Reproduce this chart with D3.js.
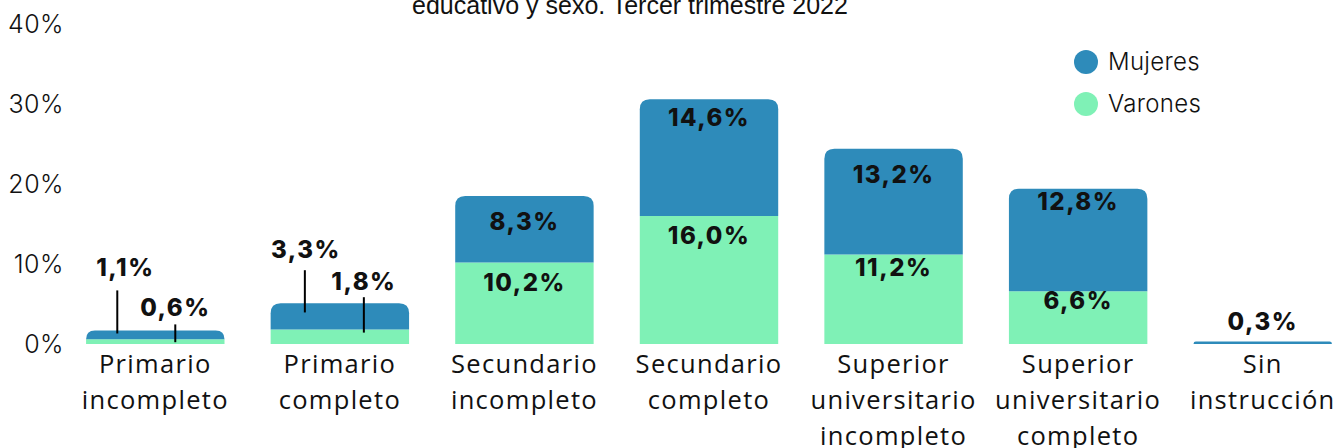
<!DOCTYPE html>
<html>
<head>
	<meta http-equiv="Content-Type" content="text/html;charset=utf-8">
	<title>Nivel educativo y sexo</title>
	<script src="https://d3js.org/d3.v7.min.js"></script>
	<style type="text/css">
		body {
			margin: 0;
			background: white;
		}
		.chart text {
			font-family: Inter, "Noto Sans", sans-serif;
			fill: #111;
		}
		.chart .title {
			font-family: "Liberation Sans", Arial, sans-serif;
			font-size: 25px;
		}
		.yAxis text {
			font-size: 25px;
			font-weight: 300;
			letter-spacing: 0.5px;
		}
		.yAxis .domain, .yAxis line {
			display: none;
		}
		.chart .cat {
			font-family: "Open Sans", "Noto Sans", sans-serif;
			font-size: 25.5px;
			font-weight: 400;
			letter-spacing: 1.3px;
		}
		.val {
			font-size: 24px;
			font-weight: 800;
			letter-spacing: 1.5px;
		}
		.leader {
			stroke: #000;
			stroke-width: 2;
		}
		.legend text {
			font-size: 24px;
			font-weight: 300;
			letter-spacing: 0.3px;
		}
	</style>
</head>
<body>
	<div id="chart"></div>
	<script type="text/javascript">
		//data
		var categories = [
			["Primario", "incompleto"],
			["Primario", "completo"],
			["Secundario", "incompleto"],
			["Secundario", "completo"],
			["Superior", "universitario", "incompleto"],
			["Superior", "universitario", "completo"],
			["Sin", "instrucción"]
		];
		var varones = [0.6, 1.8, 10.2, 16.0, 11.2, 6.6, 0];
		var mujeres = [1.1, 3.3, 8.3, 14.6, 13.2, 12.8, 0.3];
		var yTicks = [0, 10, 20, 30, 40];
		var seriesNames = ["Mujeres", "Varones"];
		var titleText = "educativo y sexo. Tercer trimestre 2022";

		var colors = {Mujeres: "#2e8bba", Varones: "#7ff1b6"};

		var W = 1341, H = 448;
		var x = d3.scaleBand()
			.domain(d3.range(categories.length))
			.range([63, 1355])
			.paddingInner(0.25)
			.paddingOuter(0.125);
		var y = d3.scaleLinear().domain([0, 40]).range([344, 24]);

		var svg = d3.select("#chart").append("svg")
			.attr("class", "chart")
			.attr("width", W)
			.attr("height", H);

		svg.append("text")
			.attr("class", "title")
			.attr("x", 630)
			.attr("y", 14)
			.attr("text-anchor", "middle")
			.text(titleText);

		// y axis, labels only
		svg.append("g")
			.attr("class", "yAxis")
			.attr("transform", "translate(64,0)")
			.call(d3.axisLeft(y).tickValues(yTicks).tickSize(0).tickPadding(0).tickFormat(function(d) { return d + "%"; }));

		var rows = categories.map(function(c, i) {
			return {i: i, Varones: varones[i], Mujeres: mujeres[i]};
		});
		var stack = d3.stack().keys(["Varones", "Mujeres"])(rows);

		// path with rounded top corners
		function barPath(x0, w, yTop, yBot, r) {
			r = Math.min(r, yBot - yTop, w / 2);
			return "M" + x0 + "," + yBot +
				"V" + (yTop + r) +
				"Q" + x0 + "," + yTop + " " + (x0 + r) + "," + yTop +
				"H" + (x0 + w - r) +
				"Q" + (x0 + w) + "," + yTop + " " + (x0 + w) + "," + (yTop + r) +
				"V" + yBot + "Z";
		}

		var fmt = function(v) { return d3.format(".1f")(v).replace(".", ",") + "%"; };

		stack.forEach(function(layer) {
			var key = layer.key;
			var g = svg.append("g").attr("class", "series " + key);
			g.selectAll("path")
				.data(layer.filter(function(d) { return d[1] - d[0] > 0; }))
				.enter().append("path")
				.attr("fill", colors[key])
				.attr("d", function(d) {
					var i = d.data.i;
					var top = key === "Mujeres" || d.data.Mujeres === 0;
					if (top) return barPath(x(i), x.bandwidth(), y(d[1]), y(d[0]), 10);
					return "M" + x(i) + "," + y(d[0]) + "H" + (x(i) + x.bandwidth()) + "V" + y(d[1]) + "H" + x(i) + "Z";
				});
		});

		// value labels inside the tall segments, baseline below the segment top
		var insideDy = {
			Mujeres: {2: 34, 3: 27, 4: 34, 5: 21},
			Varones: {2: 29, 3: 28, 4: 22, 5: 18}
		};
		stack.forEach(function(layer) {
			var dys = insideDy[layer.key];
			svg.append("g").selectAll("text")
				.data(layer.filter(function(d) { return dys[d.data.i] !== undefined; }))
				.enter().append("text")
				.attr("class", "val")
				.attr("x", function(d) { return x(d.data.i) + x.bandwidth() / 2; })
				.attr("y", function(d) { return y(d[1]) + dys[d.data.i]; })
				.attr("text-anchor", "middle")
				.text(function(d) { return fmt(d.data[layer.key]); });
		});

		// callouts for the small bars: dx from bar centre, rise above the stack top
		var callouts = [
			{i: 0, key: "Mujeres", dx: -38, ldx: 8, rise: 40, gap: 14},
			{i: 0, key: "Varones", dx: 20, ldx: 0, rise: 6, gap: 8},
			{i: 1, key: "Mujeres", dx: -35, ldx: 1, rise: 33, gap: 12},
			{i: 1, key: "Varones", dx: 24, ldx: 0, rise: 6, gap: 7}
		];
		callouts.forEach(function(c) {
			var layer = stack.filter(function(l) { return l.key === c.key; })[0];
			var d = layer[c.i];
			var cx = x(c.i) + x.bandwidth() / 2 + c.dx;
			var yTop = y(d[1]);
			var h = y(d[0]) - yTop;
			var yEnd = c.key === "Mujeres" ? yTop + Math.min(11, h * 0.35) : yTop + Math.min(3, h - 1);
			var stackTop = y(rows[c.i].Varones + rows[c.i].Mujeres);
			var y0 = stackTop - c.rise;
			svg.append("line")
				.attr("class", "leader")
				.attr("x1", cx).attr("x2", cx)
				.attr("y1", y0).attr("y2", yEnd);
			svg.append("text")
				.attr("class", "val")
				.attr("x", cx + c.ldx)
				.attr("y", y0 - c.gap)
				.attr("text-anchor", "middle")
				.text(fmt(rows[c.i][c.key]));
		});

		// label above sin instrucción
		svg.append("text")
			.attr("class", "val")
			.attr("x", x(6) + x.bandwidth() / 2)
			.attr("y", y(mujeres[6] + varones[6]) - 12)
			.attr("text-anchor", "middle")
			.text(fmt(mujeres[6] + varones[6]));

		// category labels
		svg.append("g").selectAll("text")
			.data(categories)
			.enter().append("text")
			.attr("class", "cat")
			.attr("text-anchor", "middle")
			.attr("x", function(d, i) { return x(i) + x.bandwidth() / 2; })
			.attr("y", 373)
			.selectAll("tspan")
			.data(function(d) { return d; })
			.enter().append("tspan")
			.attr("x", function() { return d3.select(this.parentNode).attr("x"); })
			.attr("dy", function(d, j) { return j === 0 ? 0 : 36; })
			.text(function(d) { return d; });

		// legend
		var legend = svg.append("g").attr("class", "legend");
		seriesNames.forEach(function(name, k) {
			var ly = 62 + k * 42;
			legend.append("circle")
				.attr("cx", 1086).attr("cy", ly).attr("r", 12)
				.attr("fill", colors[name]);
			legend.append("text")
				.attr("x", 1108).attr("y", ly + 8)
				.text(name);
		});
	</script>
</body>
</html>
